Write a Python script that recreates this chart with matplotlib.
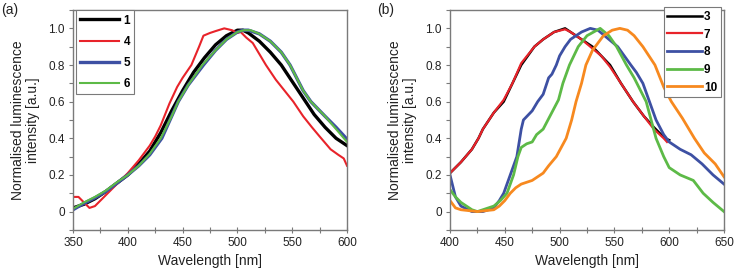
import matplotlib.pyplot as plt
from matplotlib.ticker import MultipleLocator

plt.rcParams['font.family'] = ['Liberation Sans', 'DejaVu Sans']

# ---- panel (a) data ----
wl_1 = [350, 360, 370, 380, 390, 400, 410, 420, 430, 440, 450, 460, 470, 480, 490,
        500, 505, 510, 520, 530, 540, 550, 560, 570, 580, 590, 600]
int_1 = [0.02, 0.04, 0.07, 0.11, 0.155, 0.20, 0.26, 0.33, 0.43, 0.55, 0.66, 0.76, 0.84, 0.91, 0.96,
         0.99, 0.99, 0.975, 0.93, 0.87, 0.80, 0.71, 0.62, 0.53, 0.46, 0.40, 0.36]

wl_4 = [350, 355, 360, 365, 370, 375, 380, 390, 400, 410, 420, 425, 430, 438, 445, 450, 458,
        465, 469, 475, 480, 488, 495, 500, 503, 508, 514, 520, 526, 535, 543, 551, 560, 568,
        575, 585, 592, 597, 600]
int_4 = [0.08, 0.08, 0.05, 0.02, 0.03, 0.06, 0.09, 0.15, 0.21, 0.28, 0.36, 0.41, 0.47, 0.59,
         0.68, 0.73, 0.80, 0.90, 0.96, 0.975, 0.985, 1.0, 0.99, 0.975, 0.98, 0.95, 0.92, 0.86,
         0.80, 0.72, 0.66, 0.60, 0.52, 0.46, 0.41, 0.34, 0.31, 0.29, 0.25]

wl_5 = [350, 360, 370, 380, 390, 400, 410, 420, 431, 440, 446, 455, 469, 480, 490, 500, 505,
        510, 520, 530, 540, 548, 560, 567, 580, 590, 600]
int_5 = [0.01, 0.045, 0.075, 0.11, 0.155, 0.20, 0.25, 0.31, 0.40, 0.52, 0.60, 0.69, 0.80,
         0.88, 0.94, 0.98, 0.99, 0.99, 0.97, 0.93, 0.87, 0.80, 0.66, 0.60, 0.52, 0.46, 0.395]

wl_6 = [350, 360, 370, 380, 390, 400, 410, 420, 430, 440, 446, 455, 468, 480, 490, 500, 506,
        512, 520, 530, 540, 548, 560, 567, 580, 590, 600]
int_6 = [0.015, 0.05, 0.08, 0.115, 0.16, 0.20, 0.25, 0.315, 0.40, 0.52, 0.60, 0.69, 0.80,
         0.88, 0.94, 0.98, 0.99, 0.99, 0.97, 0.93, 0.87, 0.80, 0.66, 0.60, 0.52, 0.45, 0.38]

# ---- panel (b) data ----
wl_3 = [400, 410, 420, 426, 430, 440, 449, 457, 465, 477, 485, 495, 505, 510, 520, 530, 538,
        546, 556, 567, 577, 586, 596, 600]
int_3 = [0.21, 0.27, 0.34, 0.40, 0.45, 0.54, 0.60, 0.70, 0.80, 0.90, 0.94, 0.98, 1.0, 0.98,
         0.94, 0.90, 0.85, 0.80, 0.70, 0.60, 0.52, 0.46, 0.40, 0.39]

wl_7 = [400, 410, 420, 426, 430, 440, 449, 457, 465, 477, 485, 495, 505, 510, 520, 530, 538,
        546, 556, 567, 577, 586, 595, 598]
int_7 = [0.21, 0.27, 0.34, 0.40, 0.45, 0.54, 0.61, 0.70, 0.81, 0.90, 0.94, 0.98, 0.995, 0.98,
         0.94, 0.89, 0.85, 0.79, 0.70, 0.60, 0.52, 0.45, 0.40, 0.38]

wl_8 = [400, 405, 410, 420, 430, 440, 445, 449, 455, 461, 465, 467, 475, 480, 485, 490, 493,
        497, 500, 505, 510, 520, 528, 535, 545, 553, 565, 570, 576, 582, 588, 595, 600, 610,
        620, 630, 640, 650]
int_8 = [0.20, 0.08, 0.03, 0.0, 0.0, 0.02, 0.06, 0.10, 0.20, 0.30, 0.45, 0.50, 0.55, 0.60,
         0.64, 0.73, 0.75, 0.80, 0.85, 0.90, 0.94, 0.98, 1.0, 0.99, 0.94, 0.90, 0.80, 0.76,
         0.70, 0.60, 0.50, 0.42, 0.38, 0.34, 0.31, 0.26, 0.20, 0.15]

wl_9 = [400, 405, 410, 420, 425, 430, 440, 446, 452, 458, 462, 465, 470, 475, 479, 485, 492,
        499, 503, 509, 517, 525, 537, 545, 552, 561, 568, 579, 588, 595, 600, 610, 622, 631,
        640, 650]
int_9 = [0.12, 0.08, 0.05, 0.01, 0.0, 0.01, 0.03, 0.06, 0.10, 0.20, 0.30, 0.35, 0.37, 0.38,
         0.42, 0.45, 0.53, 0.61, 0.70, 0.80, 0.90, 0.96, 1.0, 0.96, 0.90, 0.80, 0.73, 0.60,
         0.40, 0.30, 0.24, 0.20, 0.17, 0.10, 0.05, 0.0]

wl_10 = [400, 405, 410, 425, 440, 445, 450, 455, 460, 465, 475, 485, 490, 497, 506, 511, 515,
         520, 524, 530, 540, 548, 555, 562, 568, 576, 587, 595, 602, 612, 623, 632, 642, 650]
int_10 = [0.06, 0.02, 0.01, 0.0, 0.01, 0.03, 0.06, 0.10, 0.13, 0.15, 0.17, 0.21, 0.25, 0.30,
          0.40, 0.50, 0.60, 0.70, 0.80, 0.88, 0.96, 0.99, 1.0, 0.99, 0.96, 0.90, 0.80, 0.68,
          0.60, 0.51, 0.40, 0.32, 0.26, 0.19]

black = '#000000'
red = '#e8232a'
blue = '#3d50a3'
green = '#5dba47'
orange = '#f7891f'
frame = '#7a7a7a'

fig = plt.figure(figsize=(7.36, 2.79), dpi=100)
ax_a = fig.add_axes([0.0992, 0.176, 0.3723, 0.788])
ax_b = fig.add_axes([0.6114, 0.176, 0.3723, 0.788])

ax_a.plot(wl_1, int_1, color=black, lw=2.4, label='1')
ax_a.plot(wl_4, int_4, color=red, lw=1.5, label='4')
ax_a.plot(wl_5, int_5, color=blue, lw=2.4, label='5')
ax_a.plot(wl_6, int_6, color=green, lw=1.5, label='6')

ax_b.plot(wl_3, int_3, color=black, lw=1.8, label='3')
ax_b.plot(wl_7, int_7, color=red, lw=1.6, label='7')
ax_b.plot(wl_8, int_8, color=blue, lw=2.0, label='8')
ax_b.plot(wl_9, int_9, color=green, lw=2.0, label='9')
ax_b.plot(wl_10, int_10, color=orange, lw=2.0, label='10')

for ax, lo, hi in [(ax_a, 350, 600), (ax_b, 400, 650)]:
    ax.set_xlim(lo, hi)
    ax.set_ylim(-0.1, 1.1)
    ax.xaxis.set_major_locator(MultipleLocator(50))
    ax.xaxis.set_minor_locator(MultipleLocator(25))
    ax.set_yticks([0, 0.2, 0.4, 0.6, 0.8, 1.0])
    ax.set_yticklabels(['0', '0.2', '0.4', '0.6', '0.8', '1.0'])
    ax.yaxis.set_minor_locator(MultipleLocator(0.1))
    ax.tick_params(axis='x', which='both', direction='inout', length=4, width=0.8,
                   colors=frame, labelcolor='#222222', labelsize=8.5, pad=3)
    ax.tick_params(axis='y', which='both', direction='out', length=3, width=0.8,
                   colors=frame, labelcolor='#222222', labelsize=8.5, pad=3)
    for s in ax.spines.values():
        s.set_color(frame)
        s.set_linewidth(1.0)
    ax.set_xlabel('Wavelength [nm]', fontsize=10, color='#222222', labelpad=4)
    ax.set_ylabel('Normalised luminescence\nintensity [a.u.]', fontsize=10,
                  color='#222222', labelpad=6, linespacing=1.1)

leg_a = ax_a.legend(loc='upper left', bbox_to_anchor=(0.012, 0.998), borderaxespad=0,
                    handlelength=3.3, handletextpad=0.35, borderpad=0.35, labelspacing=0.78,
                    fancybox=False, framealpha=1, edgecolor=frame,
                    prop={'weight': 'bold', 'size': 8.5})
leg_b = ax_b.legend(loc='upper right', bbox_to_anchor=(0.988, 1.012), borderaxespad=0,
                    handlelength=2.9, handletextpad=0.2, borderpad=0.3, labelspacing=0.48,
                    fancybox=False, framealpha=1, edgecolor=frame,
                    prop={'weight': 'bold', 'size': 8.5})
for leg in (leg_a, leg_b):
    leg.get_frame().set_linewidth(0.8)

fig.text(0.002, 0.988, '(a)', fontsize=10, va='top', ha='left', color='#222222')
fig.text(0.512, 0.988, '(b)', fontsize=10, va='top', ha='left', color='#222222')

fig.savefig('out.png', dpi=100)
